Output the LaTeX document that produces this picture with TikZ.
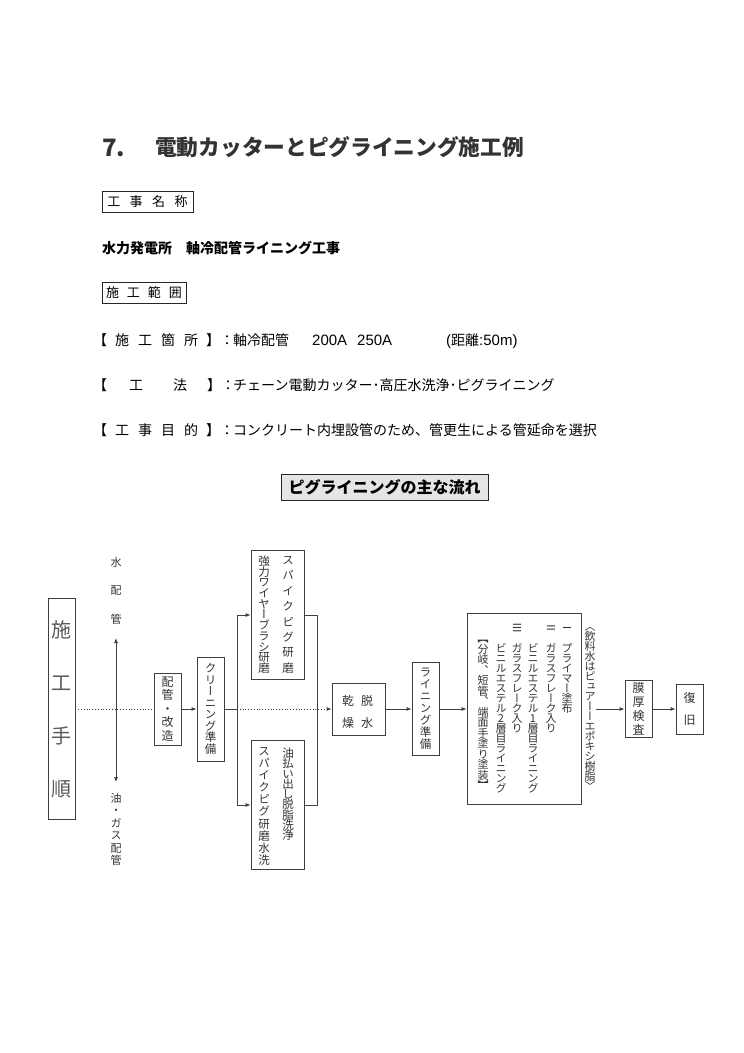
\documentclass[tikz,border=0pt]{standalone}
\usepackage{fontspec}
\usepackage{graphicx}
\setmainfont{Noto Sans CJK JP}
\newfontfamily\tatefont[RawFeature=+vert]{Noto Sans CJK JP}
\newfontfamily\latinfont{Liberation Sans}
\usetikzlibrary{arrows.meta}
\ExplSyntaxOn
\NewDocumentCommand\tate{mm}{
  \vtop{\baselineskip=#1pt\lineskiplimit=-100pt\lineskip=0pt
    \tl_map_inline:nn {#2} {\hbox_to_wd:nn{1em}{\hss##1\hss}}}}
\ExplSyntaxOff
\newcommand\rnum[1]{\rotatebox[origin=c]{90}{#1}}
\newcommand\lat[1]{{\latinfont\fontsize{15}{15}\selectfont #1}}
\tikzset{
  ln/.style={draw=black!75, line width=0.8pt},
  arr/.style={ln, -{Latex[length=5pt,width=4pt]}},
  flowbox/.style={draw=black!75, line width=0.8pt, inner sep=0pt, text=black!80},
  tv/.style={font={\tatefont\fontsize{#1}{#1}\selectfont}, inner sep=0pt, text=black!80},
  hd/.style={font={\fontsize{14}{14}\selectfont}, inner sep=0pt, anchor=base west},
  lbox/.style={draw=black!85, line width=0.6pt, inner sep=0pt, font={\fontsize{13}{13}\selectfont}}
}
\begin{document}
\begin{tikzpicture}[x=1pt,y=-1pt]
\useasboundingbox (0,0) rectangle (744,1053);
\fill[white] (0,0) rectangle (744,1053);

% title
\node[anchor=base west, inner sep=0pt, text=black!80, font={\bfseries\fontsize{24}{24}\selectfont}] (t7) at (102,156) {7.};
\node[anchor=base west, inner sep=0pt, text=black!80, font={\bfseries\fontsize{21.7}{21.7}\selectfont}] (title) at (155,155.5) {電動カッターとピグライニング施工例};

% headings
\node[lbox, minimum width=91pt, minimum height=21pt] (kjmeisho) at (147.5,201.5) {工\hspace{9.5pt}事\hspace{9.5pt}名\hspace{9.5pt}称};
\node[hd, font={\bfseries\fontsize{14}{14}\selectfont}] (kname) at (102,253.3) {水力発電所\hspace{14pt}軸冷配管ライニング工事};
\node[lbox, minimum width=84pt, minimum height=21pt] (hanni) at (144,292.5) {施\hspace{8pt}工\hspace{8pt}範\hspace{8pt}囲};

\node[hd] (l1) at (93,345.3) {【\hspace{8pt}施\hspace{9pt}工\hspace{9pt}箇\hspace{9pt}所\hspace{8pt}】：};
\node[hd] (b1) at (233,345.3) {軸冷配管};
\node[hd] (b1a) at (312,345.3) {\lat{200A}};
\node[hd] (b1b) at (357,345.3) {\lat{250A}};
\node[hd] (b1c) at (446,345.3) {\lat{(}距離\lat{:50m)}};
\node[hd] (l2) at (93,390.3) {【\hspace{22pt}工\hspace{30pt}法\hspace{20pt}】：};
\node[hd] (b2) at (233,390.3) {チェーン電動カッター･高圧水洗浄･ピグライニング};
\node[hd] (l3) at (93,435.3) {【\hspace{8pt}工\hspace{9pt}事\hspace{9pt}目\hspace{9pt}的\hspace{8pt}】：};
\node[hd] (b3) at (233,435.3) {コンクリート内埋設管のため、管更生による管延命を選択};

% flow title
\node[draw=black!85, line width=0.7pt, fill=black!10, minimum width=207pt, minimum height=26pt, inner sep=0pt, font={\bfseries\fontsize{16}{16}\selectfont}] (ftitle) at (384.5,487) {ピグライニングの主な流れ};

% flow chart
\node[flowbox, tv=20, text=black!65, minimum width=27pt, minimum height=221pt] (sekou) at (61.5,709) {\tate{53}{施工手順}};

\node[tv=11, anchor=base] (mizu) at (116,566.2) {\tate{28.5}{水配管}};
\coordinate (mtop) at (116,638);
\coordinate (mbot) at (116,782);
\draw[ln, {Latex[length=5pt,width=4pt]}-{Latex[length=5pt,width=4pt]}] (mtop) -- (mbot);
\node[tv=11, anchor=base] (abura) at (116,802.2) {\tate{12.5}{油・ガス配管}};

\node[flowbox, tv=12, minimum width=27pt, minimum height=72pt] (haikan) at (167.5,709) {\tate{13.5}{配管・改造}};
\node[flowbox, tv=11.5, minimum width=27pt, minimum height=104pt] (clean) at (210.5,709) {\tate{11.5}{クリーニング準備}};

\coordinate (split) at (237,709);
\coordinate (sup) at (237,615);
\coordinate (sdn) at (237,805);

\node[flowbox, minimum width=53pt, minimum height=129pt] (upper) at (277.5,615) {};
\node[tv=11.5, anchor=base] (u1) at (288,564.4) {\tate{15.4}{スパイクピグ研磨}};
\node[tv=11.5, anchor=base] (u2) at (264,565.4) {\tate{10.7}{強力ワイヤーブラシ研磨}};

\node[flowbox, minimum width=53pt, minimum height=129pt] (lower) at (277.5,805) {};
\node[tv=11.5, anchor=base] (lo1) at (288,757.4) {\tate{10.3}{油払い出し脱脂洗浄}};
\node[tv=11.5, anchor=base] (lo2) at (264,755.4) {\tate{12.1}{スパイクピグ研磨水洗}};

\coordinate (ujoin) at (317,615);
\coordinate (ljoin) at (317,805);

\node[flowbox, minimum width=53pt, minimum height=52pt] (dry) at (358.5,709) {};
\node[tv=12, anchor=base] (dr1) at (348,705.6) {\tate{22}{乾燥}};
\node[tv=12, anchor=base] (dr2) at (367,705.6) {\tate{22}{脱水}};

\node[flowbox, tv=11.5, minimum width=27pt, minimum height=93pt] (lining) at (425.5,709) {\tate{12}{ライニング準備}};

\node[flowbox, minimum width=114pt, minimum height=191pt] (big) at (524,709) {};
\node[tv=11, anchor=base] (c1) at (567,632.2) {\tate{10}{{\rnum{Ⅰ}}{}プライマー塗布}};
\node[tv=11, anchor=base] (c2) at (551,632.2) {\tate{10}{{\rnum{Ⅱ}}{}ガラスフレーク入り}};
\node[tv=11, anchor=base] (c3) at (533,632.2) {\tate{10}{{}{}ビニルエステル1層目ライニング}};
\node[tv=11, anchor=base] (c4) at (517,632.2) {\tate{10}{{\rnum{Ⅲ}}{}ガラスフレーク入り}};
\node[tv=11, anchor=base] (c5) at (501,632.2) {\tate{10}{{}{}ビニルエステル2層目ライニング}};
\node[tv=11, anchor=base] (c6) at (483,632.2) {\tate{10.5}{{}【分岐、短管、端面手塗り塗装】}};

\node[tv=11] (note) at (590,709) {\tate{10}{〈飲料水はピュアーーエポキシ樹脂〉}};

\node[flowbox, tv=12, minimum width=27pt, minimum height=57pt] (kensa) at (638.5,709) {\tate{14}{膜厚検査}};
\node[flowbox, tv=12, minimum width=27pt, minimum height=50pt] (fukkyu) at (689.5,709) {\tate{22}{復旧}};

% connectors
\draw[ln, dotted] (sekou.east) -- (haikan.west);
\draw[arr] (haikan.east) -- (clean.west);
\draw[ln] (clean.east) -- (split);
\draw[ln] (sup) -- (sdn);
\draw[arr] (sup) -- (upper.west);
\draw[arr] (sdn) -- (lower.west);
\draw[ln] (upper.east) -- (ujoin) -- (ljoin) -- (lower.east);
\draw[ln, dotted, -{Latex[length=5pt,width=4pt]}] (split) -- (dry.west);
\draw[arr] (dry.east) -- (lining.west);
\draw[arr] (lining.east) -- (big.west);
\draw[arr] (note.east) -- (kensa.west);
\draw[arr] (kensa.east) -- (fukkyu.west);
\end{tikzpicture}
\end{document}
